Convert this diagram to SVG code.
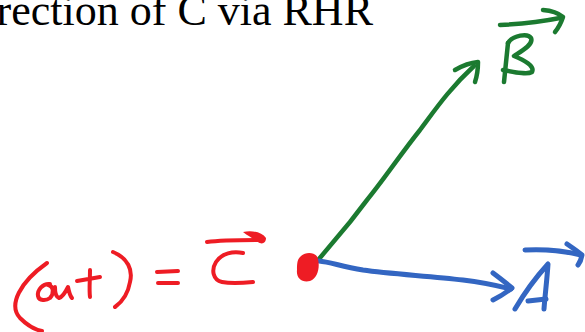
<svg xmlns="http://www.w3.org/2000/svg" width="585" height="332" viewBox="0 0 585 332">
<style>
.t{font-family:"Liberation Serif","Times New Roman",serif;font-size:44px;fill:#000}
.g{fill:none;stroke:#1b7a30;stroke-width:4.5;stroke-linecap:round;stroke-linejoin:round}
.b{fill:none;stroke:#3366c2;stroke-width:5;stroke-linecap:round;stroke-linejoin:round}
.r{fill:none;stroke:#ee1c24;stroke-width:4;stroke-linecap:round;stroke-linejoin:round}
</style>
<rect width="585" height="332" fill="#fff"/>
<text class="t" x="373" y="25" text-anchor="end">rection of C via RHR</text>
<g id="connectors">
<path class="g" d="M319,259 L350,222 L367,200 C385,178 400,155 420,130 C435,110 450,88 474,66"/>
<path class="g" d="M455,70 Q467,63 478,62 Q478,73 475,82"/>
<path class="b" d="M319,261 C330,262 340,266 363,270 C390,274 430,276 463,280 C480,282 495,285 511,289"/>
<path class="b" d="M493,273 Q505,282 512,288 Q503,295 493,300"/>
</g>
<g id="B-label">
<path class="g" d="M508,43 L504,82"/>
<path class="g" d="M508,43 C513,35 528,33 531,38 C534,45 520,52 514,56 C524,60 535,66 532,72 C527,75 514,72 503,70"/>
<path class="g" d="M500,25 C520,24 540,22 560,18"/>
<path class="g" d="M543,10 Q556,11 563,17 Q560,26 555,32"/>
</g>
<g id="A-label">
<path class="b" d="M515,309 C525,292 538,275 548,264 C547,280 545,295 544,309"/>
<path class="b" d="M528,301 L546,299"/>
<path class="b" d="M525,250 C545,249 565,251 581,255"/>
<path class="b" d="M567,244 Q576,250 582,255 Q581,261 578,265"/>
</g>
<g id="C-node">
<path d="M300,257 C305,251 317,252 318,259 C320,267 318,278 310,281 C302,283 296,278 297,270 C297,265 297,260 300,257 Z" fill="#ee1c24"/>
<path class="r" d="M47,263 C20,282 8,305 20,318 C28,326 36,330 42,331"/>
<path class="r" d="M50,284 C43,283 37,290 38,296 C39,301 46,301 50,298 C54,294 54,286 48,285 M55,287 C55,292 56,297 59,298 C63,297 66,291 68,287 C69,292 70,296 72,298"/>
<path class="r" d="M90,270 C90,280 89,290 90,297 M77,281 L100,277"/>
<path class="r" d="M113,252 C128,258 133,270 130,282 C128,294 122,302 115,307"/>
<path class="r" d="M157,272 L178,271 M158,283 L178,283"/>
<path class="r" d="M243,253 C233,251 222,253 216,262 C211,270 213,280 222,282 C232,284 243,283 253,282"/>
<path class="r" d="M207,242 C222,240 240,240 262,240"/>
<path d="M243,232 C252,230 262,232 266,238 C266,243 262,245 258,242 C254,239 248,236 243,232 Z" fill="#ee1c24"/>
</g>
</svg>
